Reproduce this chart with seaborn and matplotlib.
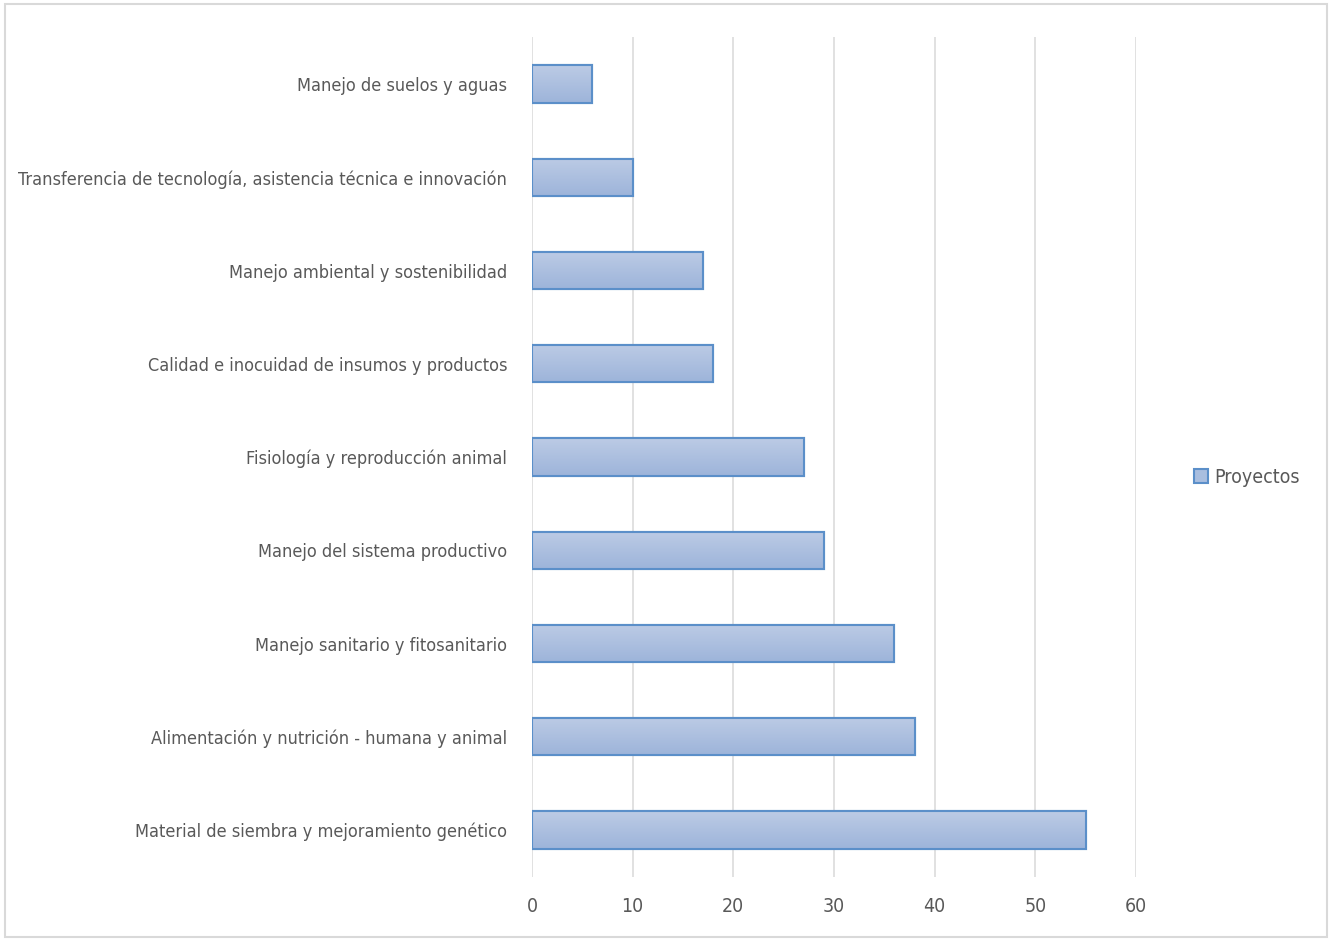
import matplotlib
matplotlib.use("Agg")
import matplotlib.pyplot as plt
import seaborn as sns
import numpy as np
import pandas as pd
from matplotlib.patches import Rectangle
from matplotlib.colors import LinearSegmentedColormap

categories = [
    "Manejo de suelos y aguas",
    "Transferencia de tecnología, asistencia técnica e innovación",
    "Manejo ambiental y sostenibilidad",
    "Calidad e inocuidad de insumos y productos",
    "Fisiología y reproducción animal",
    "Manejo del sistema productivo",
    "Manejo sanitario y fitosanitario",
    "Alimentación y nutrición - humana y animal",
    "Material de siembra y mejoramiento genético",
]
proyectos = [6, 10, 17, 18, 27, 29, 36, 38, 55]
series_name = "Proyectos"
xticks = [0, 10, 20, 30, 40, 50, 60]

sns.set_theme(style="white")
plt.rcParams['font.family'] = ['DejaVu Sans']
plt.rcParams['font.stretch'] = 'condensed'
gray = "#595959"
fs = 13

df = pd.DataFrame({"cat": categories, "val": proyectos})

fig = plt.figure(figsize=(13.31, 9.40), dpi=100)
ax = fig.add_axes([0.3997, 0.0674, 0.8535 - 0.3997, 0.9602 - 0.0674])

sns.barplot(data=df, x="val", y="cat", ax=ax, orient="h", width=0.4,
            color="#a9bedf", edgecolor="#5b8fc9", linewidth=1.5, zorder=3)

ax.set_xlim(0, 60)
ax.set_ylim(len(categories) - 0.5, -0.5)
ax.set_xticks(xticks)
ax.set_xticklabels([str(t) for t in xticks])
ax.grid(axis="x", color="#dedede", linewidth=1.3, zorder=0)
ax.grid(axis="y", visible=False)
for s in ax.spines.values():
    s.set_visible(False)
ax.tick_params(axis="both", length=0, labelsize=fs, labelcolor=gray)
ax.tick_params(axis="x", labelsize=14)
ax.tick_params(axis="y", pad=18)
ax.tick_params(axis="x", pad=15)
ax.set_xlabel("")
ax.set_ylabel("")
for t in ax.get_xticklabels() + ax.get_yticklabels():
    t.set_fontstretch('condensed')

# gradient fill
cmap = LinearSegmentedColormap.from_list("g", ["#bccbe5", "#9db4da"])
grad = np.linspace(0, 1, 256).reshape(-1, 1)
for p in list(ax.patches):
    x0, y0 = p.get_x(), p.get_y()
    w, h = p.get_width(), p.get_height()
    im = ax.imshow(grad, cmap=cmap, aspect="auto",
                   extent=[x0, x0 + w, y0 + h, y0], zorder=3.5,
                   interpolation="bilinear")
    im.set_clip_path(p)
    edge = Rectangle((x0, y0), w, h, fill=False, edgecolor="#5b8fc9",
                     linewidth=1.5, zorder=4)
    ax.add_patch(edge)
ax.set_xlim(0, 60)
ax.set_ylim(len(categories) - 0.5, -0.5)

# legend
handle = Rectangle((0, 0), 1, 1, facecolor="#a9bedf", edgecolor="#5b8fc9", linewidth=1.5)
leg = fig.legend([handle], [series_name], loc="center left",
                 bbox_to_anchor=(0.897, 0.492), frameon=False, fontsize=14,
                 labelcolor=gray, handlelength=0.75, handleheight=0.75,
                 handletextpad=0.3, borderaxespad=0, borderpad=0)
for t in leg.get_texts():
    t.set_fontstretch('condensed')

# outer border
fig.patches.append(Rectangle((0.004, 0.003), 0.993, 0.993, transform=fig.transFigure,
                             fill=False, edgecolor="#d9d9d9", linewidth=1.5))

fig.savefig("out.png", dpi=100)
